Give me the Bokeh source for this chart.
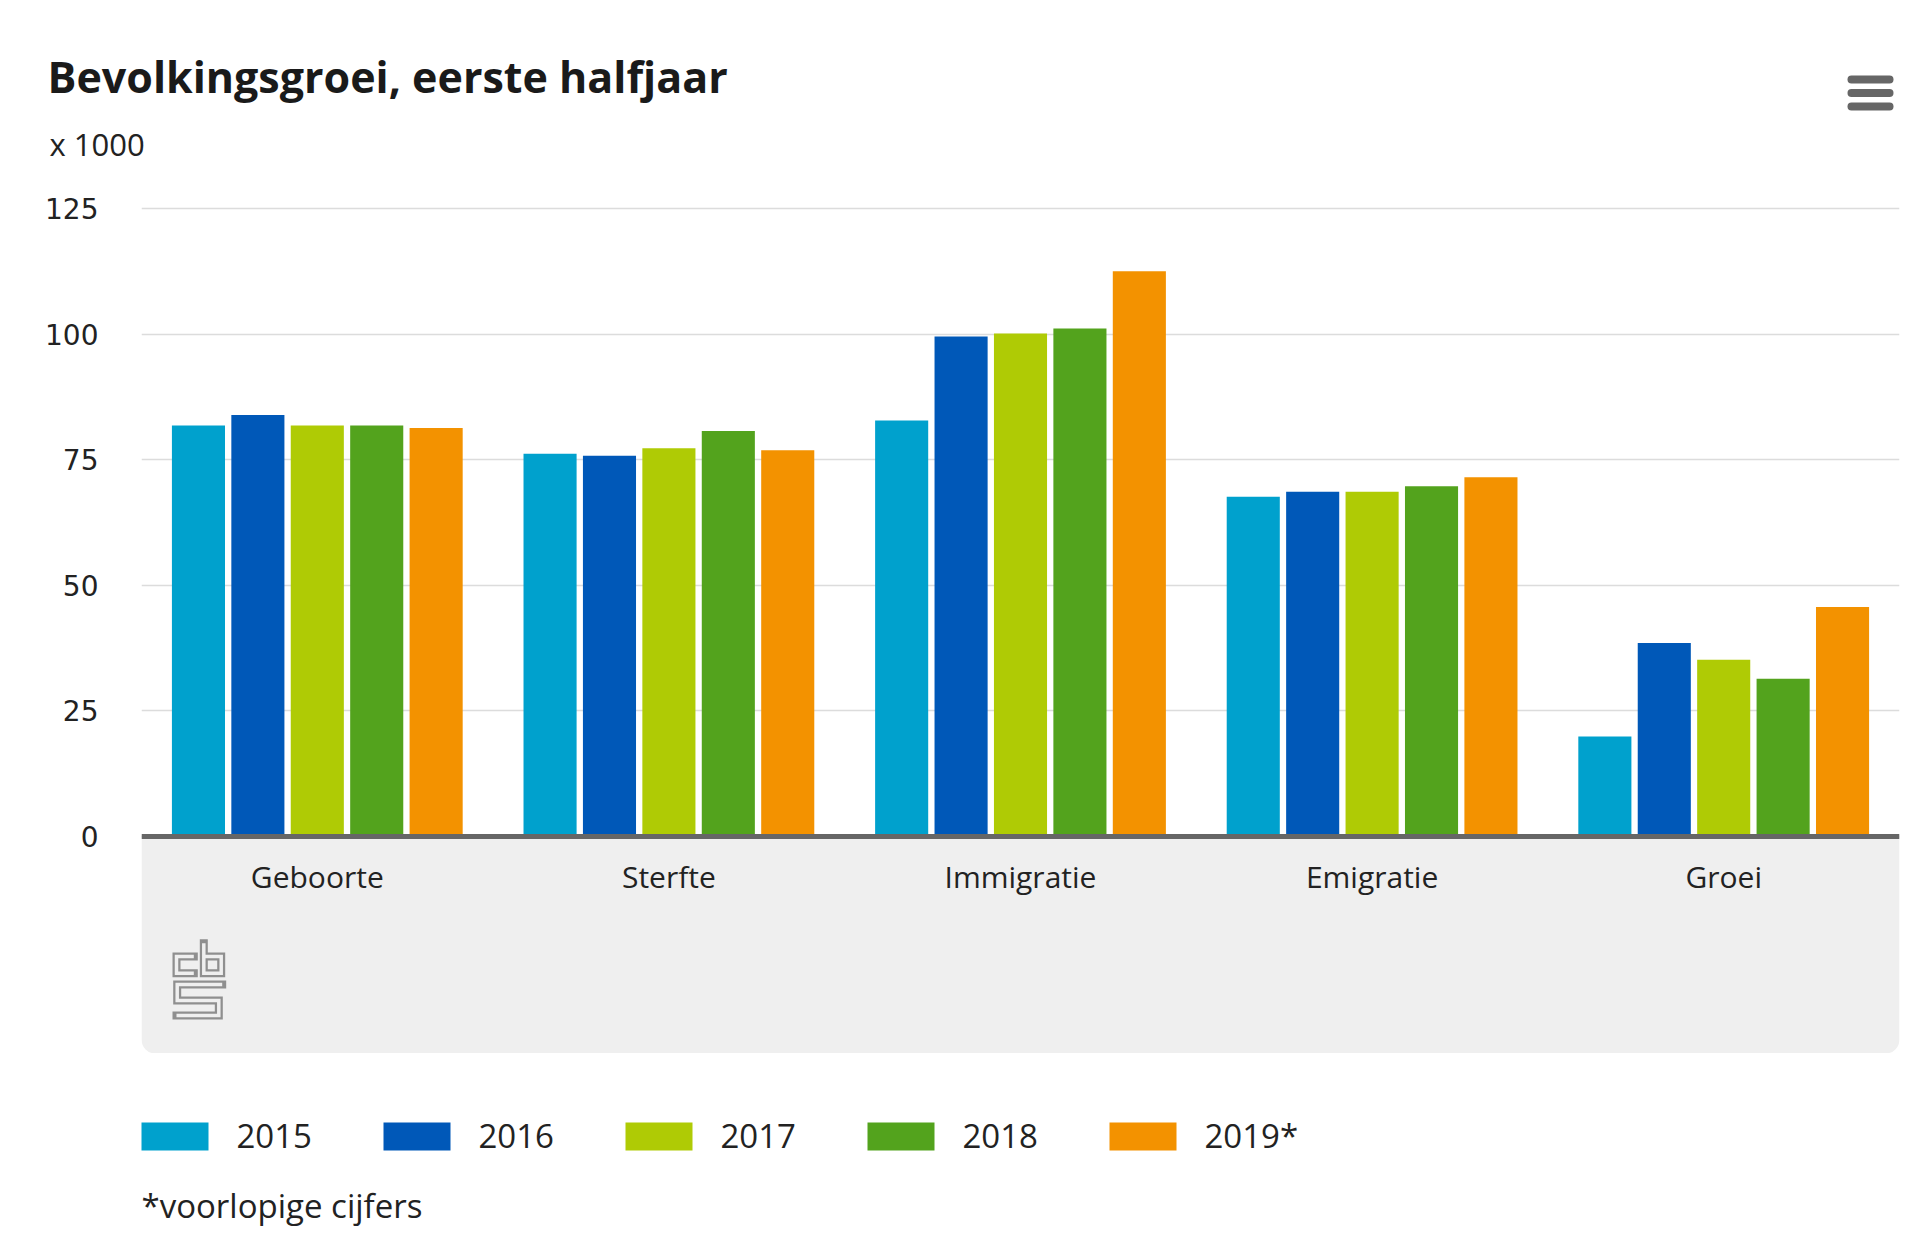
from bokeh.plotting import figure
from bokeh.layouts import column
from bokeh.models import (ColumnDataSource, FactorRange, Range1d, FixedTicker, Span,
                          BoxAnnotation)
from bokeh.transform import dodge
from bokeh.core.properties import value
from bokeh.embed import file_html
from bokeh.resources import INLINE

# ---------------- data (x 1000) ----------------
categories = ["Geboorte", "Sterfte", "Immigratie", "Emigratie", "Groei"]
years = ["2015", "2016", "2017", "2018", "2019*"]
v2015 = [81.8, 76.2, 82.8, 67.6, 19.9]
v2016 = [83.9, 75.8, 99.5, 68.6, 38.5]
v2017 = [81.8, 77.3, 100.1, 68.6, 35.2]
v2018 = [81.8, 80.7, 101.1, 69.7, 31.4]
v2019 = [81.3, 76.9, 112.5, 71.5, 45.7]
y_ticks = [0, 25, 50, 75, 100, 125]

title_text = "Bevolkingsgroei, eerste halfjaar"
unit_text = "x 1000"
note_text = "*voorlopige cijfers"

colors = ["#00a1cd", "#0058b8", "#afcb05", "#53a31d", "#f39200"]
series_cols = ["y2015", "y2016", "y2017", "y2018", "y2019"]
offsets = [-0.338, -0.169, 0.0, 0.169, 0.338]

source = ColumnDataSource(data=dict(cat=categories, y2015=v2015, y2016=v2016,
                                    y2017=v2017, y2018=v2018, y2019=v2019))

W = 1920
TOP_H = 180          # header strip
MAIN_H = 873         # canvas 180 .. 1053
BOT_H = 191          # canvas 1053 .. 1244
F_LEFT, F_RIGHT = 141, 1899
TEXT_COLOR = "#222222"


def plain_fig(h):
    f = figure(width=W, height=h, x_range=Range1d(0, W), y_range=Range1d(h, 0),
               output_backend="svg", toolbar_location=None,
               min_border=0, min_border_left=0, min_border_right=0,
               min_border_top=0, min_border_bottom=0)
    f.title = None
    f.frame_align = False
    f.axis.visible = False
    f.grid.visible = False
    f.outline_line_color = None
    f.background_fill_color = "white"
    f.border_fill_color = "white"
    return f


# ---------------- header ----------------
top = plain_fig(TOP_H)
top.text(x=[47], y=[76], text=[title_text], text_font=value("Open Sans"),
         text_font_style="bold", text_font_size="43px", text_color="#1a1a1a",
         text_baseline="alphabetic", text_align="left")
top.text(x=[49], y=[143], text=[unit_text], text_font=value("Open Sans"),
         text_font_size="31px", text_color=TEXT_COLOR, text_baseline="alphabetic",
         text_align="left")
# menu icon
top.multi_line(xs=[[1851, 1889]] * 3, ys=[[79, 79], [92.5, 92.5], [106, 106]],
               line_color="#666666", line_width=8, line_cap="round")

# ---------------- main chart ----------------
p = figure(width=W, height=MAIN_H, x_range=FactorRange(*categories),
           y_range=Range1d(-43.2, 125.4), output_backend="svg", toolbar_location=None,
           min_border_left=F_LEFT, min_border_right=W - F_RIGHT,
           min_border_top=26, min_border_bottom=0)
p.title = None
p.frame_align = False
p.outline_line_color = None
p.border_fill_color = "white"
p.background_fill_color = "white"
p.extra_y_ranges = {"px": Range1d(1053, 206)}

panel = BoxAnnotation(top=0, fill_color="#efefef", fill_alpha=1.0, line_color=None,
                      border_radius=(0, 0, 14, 14), level="underlay")
p.add_layout(panel)

for col, off, c in zip(series_cols, offsets, colors):
    p.vbar(x=dodge("cat", off, range=p.x_range), top=col, width=0.151, source=source,
           fill_color=c, line_color=None)

p.add_layout(Span(location=0, dimension="width", line_color="#666666", line_width=5))

p.xaxis.visible = False
p.xgrid.visible = False
p.yaxis.ticker = FixedTicker(ticks=y_ticks)
p.ygrid.ticker = FixedTicker(ticks=y_ticks)
p.ygrid.grid_line_color = "#dcdcdc"
p.ygrid.grid_line_width = 1.5
p.yaxis.axis_line_color = None
p.yaxis.major_tick_line_color = None
p.yaxis.minor_tick_line_color = None
p.yaxis.major_label_standoff = 37
p.yaxis.major_label_text_font = "DejaVu Sans"
p.yaxis.major_label_text_font_size = "28px"
p.yaxis.major_label_text_color = TEXT_COLOR

p.text(x=categories, y=[0] * len(categories), text=categories, y_offset=40,
       text_align="center", text_baseline="alphabetic", text_font=value("Open Sans"),
       text_font_size="30px", text_color=TEXT_COLOR)


# CBS logo (decoration; x in canvas px converted to categorical synthetic units)
def to_syn(px):
    return [(v - F_LEFT) / (F_RIGHT - F_LEFT) * len(categories) for v in px]


logo_px = [[193.3, 176.0, 176.0, 193.3],
           [203.3, 203.3, 220.7, 220.7, 203.3],
           [221.7, 176.7, 176.7, 218.3, 218.3, 176.0]]
logo_ys = [[956.0, 956.0, 972.7, 972.7],
           [942.7, 972.7, 972.7, 956.0, 956.0],
           [984.0, 984.0, 1000.0, 1000.0, 1015.0, 1015.0]]
logo_xs = [to_syn(xx) for xx in logo_px]
p.multi_line(xs=logo_xs, ys=logo_ys, y_range_name="px",
             line_color="#8f8f8f", line_width=8, line_join="miter", line_cap="square")
p.multi_line(xs=logo_xs, ys=logo_ys, y_range_name="px",
             line_color="#efefef", line_width=3.5, line_join="miter", line_cap="butt")

# ---------------- legend + footnote ----------------
bot = plain_fig(BOT_H)
SW_W, SW_H, PITCH, STANDOFF, LEG_Y = 67, 28, 242, 28, 83
sw_x = [F_LEFT + SW_W / 2 + i * PITCH for i in range(len(years))]
bot.rect(x=sw_x, y=[LEG_Y] * len(years), width=SW_W, height=SW_H,
         fill_color=colors, line_color=None)
bot.text(x=[F_LEFT + SW_W + STANDOFF + i * PITCH for i in range(len(years))],
         y=[LEG_Y - 1] * len(years), text=years, text_font=value("Open Sans"),
         text_font_size="33px", text_color=TEXT_COLOR, text_baseline="alphabetic",
         text_align="left")

bot.text(x=[F_LEFT], y=[152], text=[note_text], text_font=value("Open Sans"),
         text_font_size="33px", text_color=TEXT_COLOR, text_baseline="alphabetic",
         text_align="left")

layout = column(top, p, bot, spacing=0)
open("out.html", "w").write(file_html(layout, INLINE))
